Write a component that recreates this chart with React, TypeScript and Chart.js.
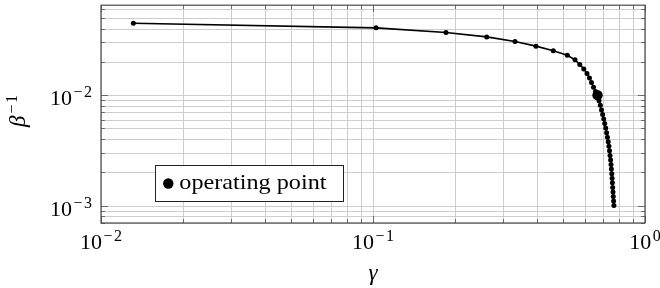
import React, { useEffect, useRef } from "react";
import { Chart, registerables } from "chart.js";

Chart.register(...registerables);

// gamma (x) and beta^{-1} (y) values
const gammaValues = [
  0.01315, 0.1026, 0.1855, 0.2618, 0.3327, 0.3974, 0.4601, 0.5181, 0.5529, 0.5758,
  0.5957, 0.612, 0.6251, 0.6358, 0.6467, 0.6578, 0.669, 0.6776, 0.6851, 0.6921,
  0.6986, 0.7051, 0.7111, 0.7172, 0.7226, 0.7275, 0.7325, 0.7368, 0.7406, 0.7437,
  0.7475, 0.7499, 0.7524, 0.755, 0.7569, 0.7588, 0.7607, 0.7627, 0.7646, 0.7666,
  0.7685,
];
const betaInvValues = [
  0.0448, 0.0407, 0.037, 0.0337, 0.0306, 0.0278, 0.0253, 0.023, 0.0209, 0.019,
  0.0173, 0.0157, 0.0143, 0.013, 0.0118, 0.0108, 0.00978, 0.00889, 0.00809, 0.00735,
  0.00669, 0.00608, 0.00553, 0.00503, 0.00457, 0.00416, 0.00378, 0.00344, 0.00313, 0.00284,
  0.00259, 0.00235, 0.00214, 0.00194, 0.00177, 0.00161, 0.00146, 0.00133, 0.00121, 0.0011,
  0.001,
];
const opGamma = [0.669];
const opBetaInv = [0.01];
const legendLabel = "operating point";

const xDecades = [-2, -1, 0];
const yDecades = [-3, -2];
const minorMultipliers = [1, 2, 3, 4, 5, 6, 7, 8, 9];
const X_MIN = 0.01;
const X_MAX = 1;
const Y_MIN = 6.95e-4;
const Y_MAX = 0.0653;

const SERIF = '"Liberation Serif", "Times New Roman", serif';
const MAIN_FONT = `22px ${SERIF}`;
const SUP_FONT = `16px ${SERIF}`;

function drawPow(ctx: CanvasRenderingContext2D, exp: number, x: number, baseY: number, align: string) {
  const main = "10";
  const minus = exp < 0 ? "\u2212" : "";
  const digit = String(Math.abs(exp));
  ctx.font = MAIN_FONT;
  const w1 = ctx.measureText(main).width;
  ctx.font = SUP_FONT;
  const wm = minus ? ctx.measureText(minus).width + 1.5 : 0;
  const wd = ctx.measureText(digit).width;
  const gap = 1.5;
  const total = w1 + gap + wm + wd;
  const x0 = align === "right" ? x - total : x - total / 2;
  ctx.textAlign = "left";
  ctx.textBaseline = "alphabetic";
  ctx.fillStyle = "#000";
  ctx.font = MAIN_FONT;
  ctx.fillText(main, x0, baseY);
  ctx.font = SUP_FONT;
  if (minus) ctx.fillText(minus, x0 + w1 + gap, baseY - 8);
  ctx.fillText(digit, x0 + w1 + gap + wm, baseY - 8);
}

function tickList(min: number, max: number) {
  const out: { v: number; major: boolean }[] = [];
  const lo = Math.floor(Math.log10(min));
  const hi = Math.ceil(Math.log10(max));
  for (let d = lo; d <= hi; d++) {
    for (const m of minorMultipliers) {
      const v = m * Math.pow(10, d);
      if (v >= min * 0.9999 && v <= max * 1.0001) out.push({ v, major: m === 1 });
    }
  }
  return out;
}

const axisPlugin = {
  id: "pgfAxis",
  beforeDatasetsDraw(chart: any) {
    const { ctx, chartArea: a, scales } = chart;
    const xs = scales.x;
    const ys = scales.y;
    ctx.save();
    ctx.strokeStyle = "#cdcdcd";
    ctx.lineWidth = 1;
    for (const t of tickList(X_MIN, X_MAX)) {
      const px = Math.round(xs.getPixelForValue(t.v)) + 0.5;
      ctx.beginPath();
      ctx.moveTo(px, a.top);
      ctx.lineTo(px, a.bottom);
      ctx.stroke();
    }
    for (const t of tickList(Y_MIN, Y_MAX)) {
      const py = Math.round(ys.getPixelForValue(t.v)) + 0.5;
      ctx.beginPath();
      ctx.moveTo(a.left, py);
      ctx.lineTo(a.right, py);
      ctx.stroke();
    }
    ctx.restore();
  },
  afterDraw(chart: any) {
    const { ctx, chartArea: a, scales } = chart;
    const xs = scales.x;
    const ys = scales.y;
    ctx.save();
    // tick marks
    ctx.strokeStyle = "#6a6a6a";
    ctx.lineWidth = 1;
    for (const t of tickList(X_MIN, X_MAX)) {
      const px = Math.round(xs.getPixelForValue(t.v)) + 0.5;
      const len = t.major ? 7 : 4;
      ctx.beginPath();
      ctx.moveTo(px, a.bottom);
      ctx.lineTo(px, a.bottom - len);
      ctx.moveTo(px, a.top);
      ctx.lineTo(px, a.top + len);
      ctx.stroke();
    }
    for (const t of tickList(Y_MIN, Y_MAX)) {
      const py = Math.round(ys.getPixelForValue(t.v)) + 0.5;
      const len = t.major ? 7 : 4;
      ctx.beginPath();
      ctx.moveTo(a.left, py);
      ctx.lineTo(a.left + len, py);
      ctx.moveTo(a.right, py);
      ctx.lineTo(a.right - len, py);
      ctx.stroke();
    }
    // frame
    ctx.strokeStyle = "#4a4a4a";
    ctx.lineWidth = 1.2;
    ctx.strokeRect(a.left, a.top, a.right - a.left, a.bottom - a.top);

    // tick labels
    for (const d of xDecades) {
      const px = xs.getPixelForValue(Math.pow(10, d));
      drawPow(ctx, d, px, 249, "center");
    }
    for (const d of yDecades) {
      const py = ys.getPixelForValue(Math.pow(10, d));
      drawPow(ctx, d, 92, py + 10, "right");
    }

    // x axis title
    ctx.fillStyle = "#000";
    ctx.font = `italic 23px ${SERIF}`;
    ctx.textAlign = "center";
    ctx.textBaseline = "alphabetic";
    ctx.fillText("\u03b3", (a.left + a.right) / 2, 280);

    // y axis title (rotated)
    ctx.save();
    ctx.translate(25, 111);
    ctx.rotate(-Math.PI / 2);
    ctx.font = `italic 23px ${SERIF}`;
    const wb = ctx.measureText("\u03b2").width;
    ctx.font = SUP_FONT;
    const ws = ctx.measureText("\u22121").width + 1.5;
    const tot = wb + 2 + ws;
    ctx.textAlign = "left";
    ctx.font = `italic 23px ${SERIF}`;
    ctx.fillText("\u03b2", -tot / 2, 0);
    ctx.font = SUP_FONT;
    ctx.fillText("\u2212", -tot / 2 + wb + 2, -8);
    ctx.fillText("1", -tot / 2 + wb + 2 + ctx.measureText("\u2212").width + 1.5, -8);
    ctx.restore();

    // legend
    ctx.fillStyle = "#fff";
    ctx.fillRect(155, 165, 188, 36);
    ctx.strokeStyle = "#222";
    ctx.lineWidth = 1;
    ctx.strokeRect(155.5, 165.5, 188, 36);
    ctx.fillStyle = "#000";
    ctx.beginPath();
    ctx.arc(168.3, 183.5, 5.2, 0, Math.PI * 2);
    ctx.fill();
    ctx.save();
    ctx.translate(179.3, 189);
    ctx.scale(1.1, 1);
    ctx.font = MAIN_FONT;
    ctx.textAlign = "left";
    ctx.fillText(legendLabel, 0, 0);
    ctx.restore();

    ctx.restore();
  },
};

export default function App() {
  const ref = useRef<HTMLCanvasElement | null>(null);
  useEffect(() => {
    const canvas = ref.current;
    if (!canvas) return;
    const chart = new Chart(canvas, {
      type: "scatter",
      data: {
        datasets: [
          {
            label: legendLabel,
            data: opGamma.map((g, i) => ({ x: g, y: opBetaInv[i] })),
            pointRadius: 5.2,
            pointBackgroundColor: "#000",
            pointBorderColor: "#000",
            pointBorderWidth: 0,
            showLine: false,
          },
          {
            label: "curve",
            data: gammaValues.map((g, i) => ({ x: g, y: betaInvValues[i] })),
            showLine: true,
            borderColor: "#000",
            borderWidth: 1.6,
            pointRadius: 2.5,
            pointBackgroundColor: "#000",
            pointBorderColor: "#000",
            pointBorderWidth: 0,
            tension: 0,
          },
        ],
      },
      options: {
        responsive: false,
        animation: false,
        events: [],
        layout: { padding: { left: 101, top: 3, right: 15, bottom: 65 } },
        scales: {
          x: { type: "logarithmic", min: X_MIN, max: X_MAX, display: false, bounds: "data" },
          y: { type: "logarithmic", min: Y_MIN, max: Y_MAX, display: false, bounds: "data" },
        },
        plugins: { legend: { display: false }, tooltip: { enabled: false } },
      } as any,
      plugins: [axisPlugin],
    });
    return () => chart.destroy();
  }, []);
  return (
    <div style={{ position: "fixed", left: 0, top: 0, width: 660, height: 288, background: "#fff" }}>
      <canvas ref={ref} width={660} height={288} style={{ display: "block" }} />
    </div>
  );
}
